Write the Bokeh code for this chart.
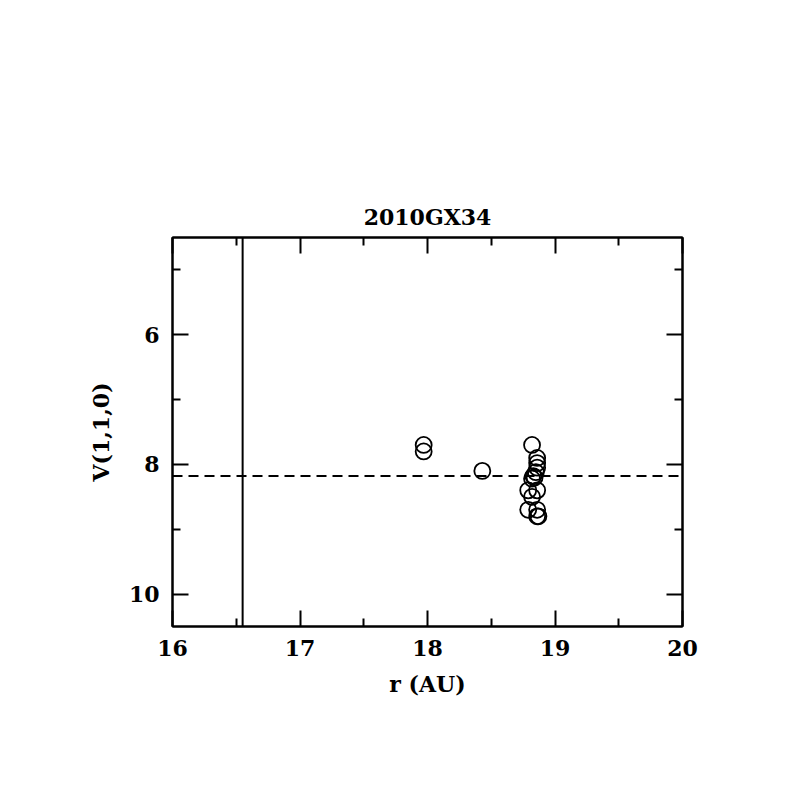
from bokeh.plotting import figure
from bokeh.models import Range1d, LinearAxis, Span, FixedTicker, Title
from bokeh.embed import file_html
from bokeh.resources import INLINE

# data
r_au = [17.97, 17.97, 18.43, 18.82, 18.86, 18.86, 18.86, 18.85, 18.83, 18.84, 18.82,
        18.79, 18.86, 18.82, 18.79, 18.86, 18.86, 18.87]
v110 = [7.70, 7.80, 8.10, 7.70, 7.90, 7.98, 8.05, 8.12, 8.18, 8.20, 8.22,
        8.40, 8.40, 8.50, 8.70, 8.70, 8.80, 8.80]
vline_r = 16.55
mean_v = 8.18
x_major = [16, 17, 18, 19, 20]
x_minor = [16.5, 17.5, 18.5, 19.5]
y_major = [6, 8, 10]
y_minor = [5, 7, 9]

FONT = "DejaVu Serif"
FS = "22px"
STYLE = "bold"

p = figure(width=790, height=790, output_backend="svg", toolbar_location=None,
           x_range=Range1d(16, 20), y_range=Range1d(10.5, 4.5),
           x_axis_location=None, y_axis_location=None,
           min_border_left=172, min_border_right=108,
           min_border_top=237, min_border_bottom=164)
p.grid.visible = False
p.outline_line_color = "black"
p.outline_line_width = 2
p.background_fill_color = "white"
p.border_fill_color = "white"

def make_axis(cls, ticks, minor, labels, label=None):
    ax = cls(ticker=FixedTicker(ticks=ticks, minor_ticks=minor))
    ax.major_tick_in = 16
    ax.major_tick_out = 0
    ax.minor_tick_in = 8
    ax.minor_tick_out = 0
    ax.major_tick_line_width = 2
    ax.minor_tick_line_width = 2
    ax.axis_line_width = 2
    ax.major_label_text_font = FONT
    ax.major_label_text_font_size = FS
    ax.major_label_text_font_style = STYLE
    ax.major_label_text_color = "black"
    ax.major_label_standoff = 13
    if not labels:
        ax.major_label_text_color = None
    if label:
        ax.axis_label = label
        ax.axis_label_text_font = FONT
        ax.axis_label_text_font_size = FS
        ax.axis_label_text_font_style = STYLE
        ax.axis_label_text_color = "black"
        ax.axis_label_standoff = 12
    return ax

p.add_layout(make_axis(LinearAxis, x_major, x_minor, True, "r (AU)"), "below")
p.add_layout(make_axis(LinearAxis, x_major, x_minor, False), "above")
p.add_layout(make_axis(LinearAxis, y_major, y_minor, True, "V(1,1,0)"), "left")
p.add_layout(make_axis(LinearAxis, y_major, y_minor, False), "right")

p.add_layout(Span(location=vline_r, dimension="height", line_color="black", line_width=2))
p.add_layout(Span(location=mean_v, dimension="width", line_color="black", line_width=2,
                  line_dash="10 6"))

p.scatter(r_au, v110, marker="circle", size=16, fill_color=None,
          line_color="black", line_width=1.8)

t = Title(text="2010GX34", align="center", text_font=FONT, text_font_size=FS,
          text_font_style=STYLE, text_color="black", standoff=15)
p.add_layout(t, "above")

open("out.html", "w").write(file_html(p, INLINE))
